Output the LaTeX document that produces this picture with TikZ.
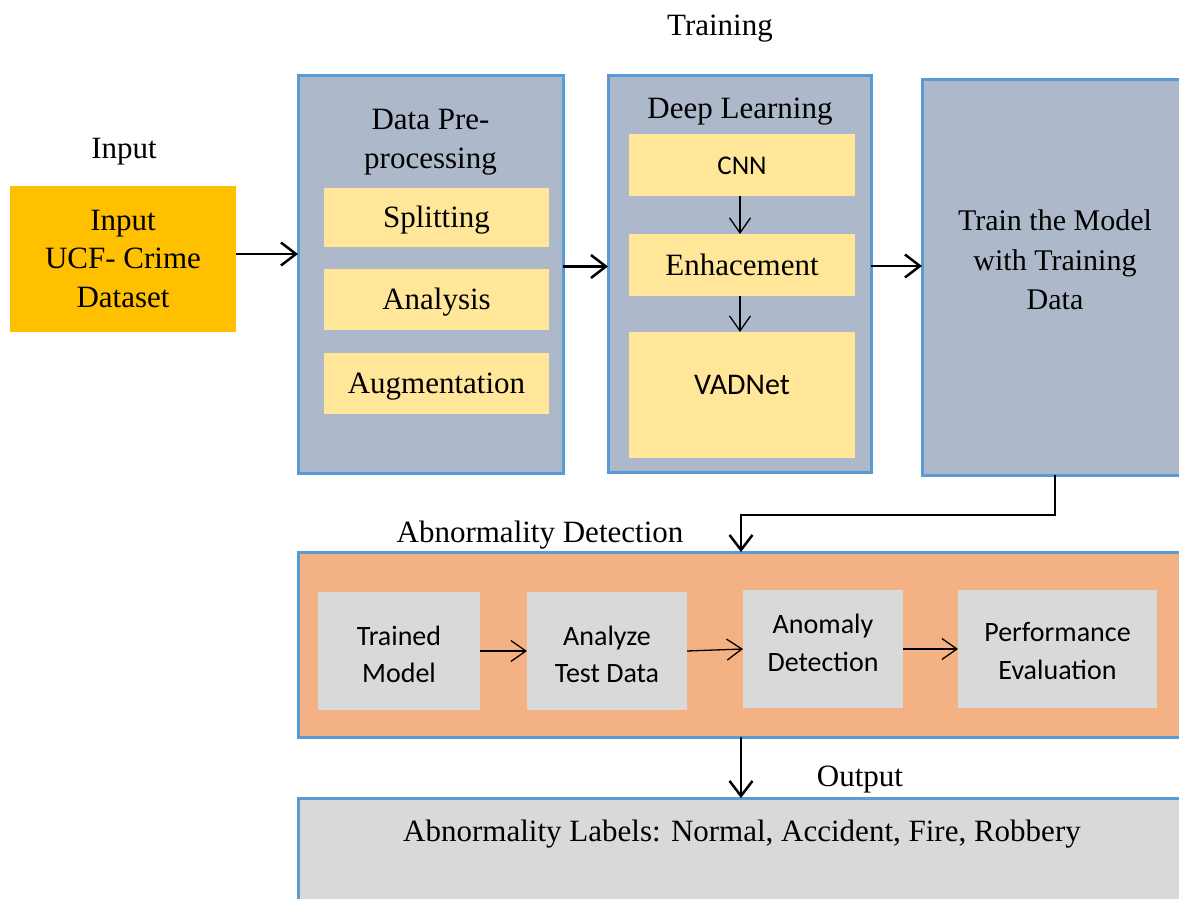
\documentclass[tikz,border=0pt]{standalone}
\usepackage{fontspec}
\setmainfont{Liberation Serif}
\newfontfamily\calfont{Carlito}
\usetikzlibrary{arrows.meta}
\definecolor{gold}{HTML}{FFC000}
\definecolor{slate}{HTML}{ADB9CA}
\definecolor{pale}{HTML}{FFE699}
\definecolor{salmon}{HTML}{F4B183}
\definecolor{lgray}{HTML}{D9D9D9}
\definecolor{bord}{HTML}{5B9BD5}
\tikzset{
  box/.style={inner sep=0pt, outer sep=0pt, align=center, font=\fontsize{31}{38.5}\selectfont},
  stage/.style={box, fill=slate, draw=bord, line width=3pt},
  inbox/.style={box, fill=pale, text height=21pt, text depth=1pt},
  grayin/.style={box, fill=lgray, font=\calfont\fontsize{28}{37}\selectfont},
  title/.style={inner sep=0pt, align=center, font=\fontsize{31}{39}\selectfont},
  bigarrow/.style={line width=2.5pt, -{Straight Barb[length=15pt,width=23pt,line width=2.5pt]}},
  thinarrow/.style={line width=1.3pt, -{Straight Barb[length=15pt,width=21pt,line width=1.3pt]}},
}
\begin{document}
\begin{tikzpicture}[x=1pt,y=-1pt]
\useasboundingbox (0,0) rectangle (1179,899);
\clip (0,0) rectangle (1179,899);
\fill[white] (0,0) rectangle (1179,899);

% labels
\node[title] (ltrain) at (720,29) {Training};
\node[title] (linput) at (124,152) {Input};
\node[title] (labn) at (540,535) {Abnormality Detection};
\node[title] (lout) at (860,780) {Output};

% input
\node[box, fill=gold, minimum width=226pt, minimum height=146pt] (in) at (123,259) {Input\\UCF- Crime\\Dataset};

% data preprocessing
\node[stage, minimum width=265pt, minimum height=397pt] (dp) at (430.5,274.5) {};
\node[title] (dpt) at (430.5,142) {Data Pre-\\processing};
\node[inbox, minimum width=225pt, minimum height=59pt] (split) at (436.5,217.5) {Splitting};
\node[inbox, minimum width=225pt, minimum height=61pt] (anal) at (436.5,299.5) {Analysis};
\node[inbox, minimum width=225pt, minimum height=61pt] (aug) at (436.5,383.5) {Augmentation};

% deep learning
\node[stage, minimum width=263pt, minimum height=396pt] (dl) at (739.5,274) {};
\node[title] (dlt) at (740,112) {Deep Learning};
\node[inbox, minimum width=226pt, minimum height=62pt, font=\calfont\fontsize{27}{33}\selectfont, text height=18pt, text depth=0pt] (cnn) at (742,165) {CNN};
\node[inbox, minimum width=226pt, minimum height=62pt] (enh) at (742,265) {Enhacement};
\node[inbox, minimum width=226pt, minimum height=126pt] (vad) at (742,395) {};
\node[inner sep=0pt, font=\calfont\fontsize{30}{36}\selectfont] (vadt) at (742,385) {VADNet};

% train
\node[stage, minimum width=268pt, minimum height=395pt] (train) at (1056,277.5) {};
\node[title, font=\fontsize{30}{39.5}\selectfont] (traint) at (1055,260) {Train the Model\\with Training\\Data};

% abnormality detection
\node[box, fill=salmon, draw=bord, line width=3pt, minimum width=892pt, minimum height=185pt] (abn) at (744,644.5) {};
\node[grayin, minimum width=162pt, minimum height=118pt] (tm) at (399,651) {};
\node[inner sep=0pt, align=center, font=\calfont\fontsize{28}{37}\selectfont] (tmt) at (399,654) {Trained\\Model};
\node[grayin, minimum width=160pt, minimum height=118pt] (atd) at (607,651) {};
\node[inner sep=0pt, align=center, font=\calfont\fontsize{28}{37}\selectfont] (atdt) at (607,654) {Analyze\\Test Data};
\node[grayin, minimum width=160pt, minimum height=118pt] (ad) at (823,649) {};
\node[inner sep=0pt, align=center, font=\calfont\fontsize{28}{38}\selectfont] (adt) at (823,643) {Anomaly\\Detection};
\node[grayin, minimum width=199pt, minimum height=118pt] (pe) at (1057.5,649) {};
\node[inner sep=0pt, align=center, font=\calfont\fontsize{28}{37}\selectfont] (pet) at (1057.5,651) {Performance\\Evaluation};

% output
\node[box, fill=lgray, draw=bord, line width=3pt, minimum width=892pt, minimum height=112pt] (out) at (744,854) {};
\node[title] (outt) at (742,834) {Abnormality Labels: Normal, Accident, Fire, Robbery};

% connectors
\draw[bigarrow] ([yshift=5pt]in.east) -- ([yshift=5pt]in.east -| dp.west);
\draw[bigarrow] ([yshift=8pt]dp.east) -- ([yshift=8pt]dp.east -| dl.west);
\draw[bigarrow] ([yshift=8pt]dl.east) -- ([yshift=8pt]dl.east -| train.west);
\coordinate (bend) at (741,515);
\draw[bigarrow] ([xshift=-1pt]train.south) |- (bend) -- (bend |- abn.north);
\draw[bigarrow] ([xshift=-3pt]abn.south) -- ([xshift=-3pt]out.north);

\draw[thinarrow] ([xshift=-2pt]cnn.south) -- ([xshift=-2pt]enh.north);
\draw[thinarrow] ([xshift=-2pt]enh.south) -- ([xshift=-2pt]vad.north);
\draw[thinarrow] (tm.east) -- (atd.west);
\draw[thinarrow] (atd.east) -- (ad.west);
\draw[thinarrow] (ad.east) -- (pe.west);
\end{tikzpicture}
\end{document}
